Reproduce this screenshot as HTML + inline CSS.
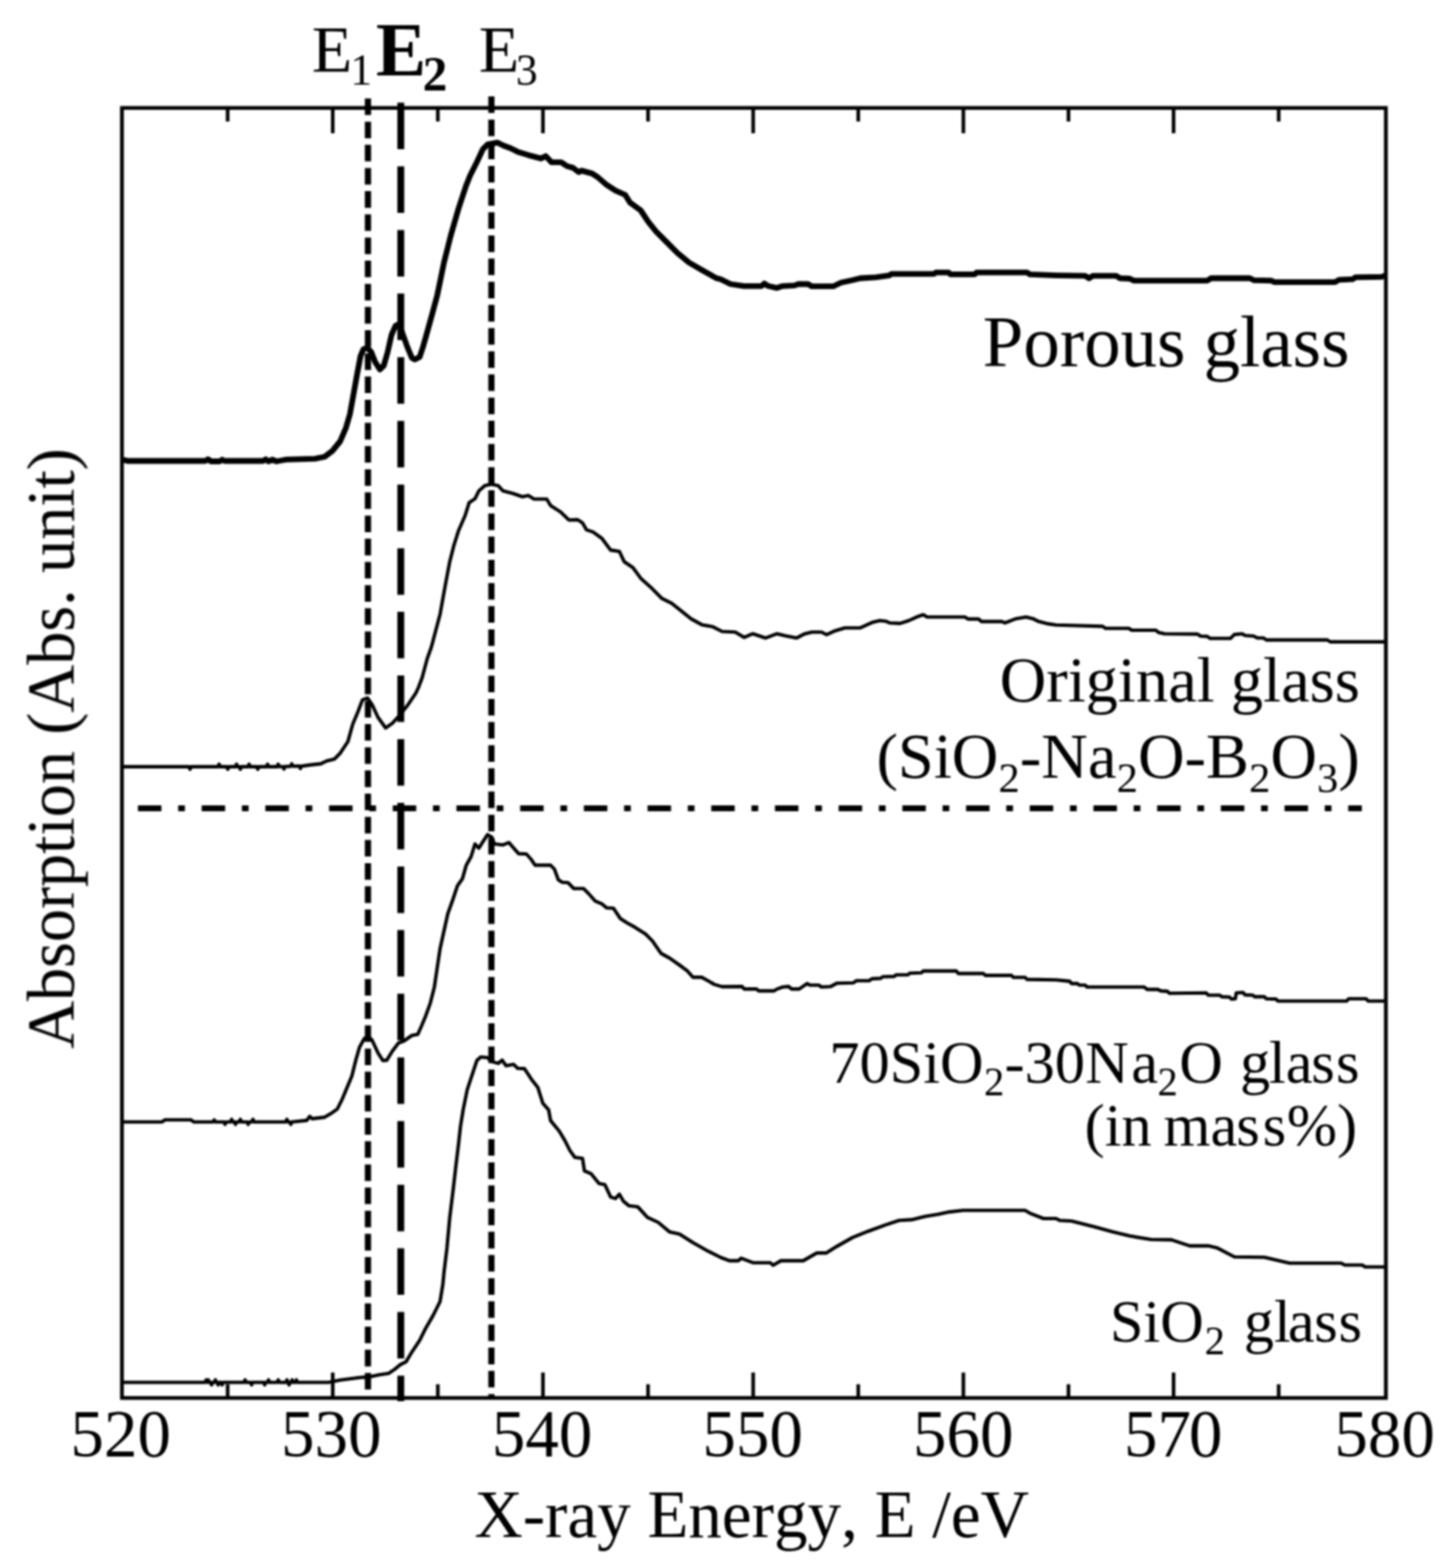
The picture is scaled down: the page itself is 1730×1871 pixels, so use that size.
<!DOCTYPE html>
<html lang="en"><head><meta charset="utf-8"><title>O K-edge XANES spectra of glasses</title>
<style>
html,body{margin:0;padding:0;background:#fff;}
body{width:1730px;height:1871px;overflow:hidden;}
svg{display:block;}
text{font-family:"Liberation Serif",serif;fill:#000;font-kerning:none;}
.ax{fill:none;stroke:#000;stroke-width:4.5;}
.tk{stroke:#000;stroke-width:4.3;fill:none;}
.cv{fill:none;stroke:#000;stroke-width:4.1;stroke-linejoin:round;stroke-linecap:butt;}
.cvb{fill:none;stroke:#000;stroke-width:6.8;stroke-linejoin:round;stroke-linecap:butt;}
</style></head><body>
<svg width="1730" height="1871" viewBox="0 0 1730 1871">
<rect x="0" y="0" width="1730" height="1871" fill="#fff"/>
<defs><filter id="soft" x="0" y="0" width="1730" height="1871" filterUnits="userSpaceOnUse"><feGaussianBlur stdDeviation="0.9"/></filter></defs>
<g filter="url(#soft)">
<polyline class="cvb" points="147.0,548.4 152.0,550.0 245.0,550.0 248.0,548.0 252.0,550.5 262.0,550.5 265.0,548.5 268.0,550.0 314.0,550.0 317.0,548.0 320.0,550.5 325.0,548.5 330.0,550.5 341.0,548.4 375.8,547.3 387.4,545.0 396.6,538.0 405.9,526.5 412.8,510.3 417.5,494.1 422.1,468.7 426.7,443.2 430.2,424.7 433.6,416.6 438.3,415.0 442.9,420.1 447.5,431.7 453.3,440.9 457.9,436.3 462.5,420.1 467.2,399.3 471.8,388.9 476.4,386.6 479.9,397.0 485.7,413.2 491.4,427.0 494.9,428.9 500.7,425.9 504.5,414.5 507.8,403.0 515.3,376.0 521.6,352.7 529.7,313.4 537.8,281.0 547.1,248.7 556.3,220.9 560.9,209.4 569.0,193.2 576.0,178.2 581.7,172.4 593.3,170.1 600.2,173.5 609.5,177.0 618.7,181.6 630.3,185.1 641.8,188.1 645.3,189.2 651.1,186.2 658.0,193.6 669.6,193.6 676.5,198.3 683.5,200.1 690.4,205.4 693.9,203.6 706.6,207.1 713.5,211.7 722.8,219.8 734.3,227.4 745.9,232.5 751.7,241.7 764.4,251.0 773.6,264.9 782.9,276.4 794.5,288.0 808.3,301.8 822.2,313.4 838.4,322.7 854.6,331.9 860.0,333.2 871.6,339.0 887.7,341.3 908.6,341.3 912.0,338.3 916.6,341.3 927.0,343.6 934.0,341.3 947.9,340.6 952.5,339.0 964.0,339.0 968.7,341.7 994.1,341.7 1003.4,337.3 1017.2,334.3 1026.5,332.0 1045.0,330.9 1061.2,328.6 1063.5,326.9 1114.3,326.9 1116.6,325.1 1131.7,325.1 1134.0,327.4 1162.9,327.4 1165.2,325.1 1225.3,325.1 1228.8,327.4 1260.0,328.6 1294.7,329.2 1299.3,332.0 1303.9,329.2 1331.7,329.2 1336.3,332.0 1347.9,332.5 1352.5,334.8 1440.3,334.8 1445.0,332.0 1491.2,332.0 1495.8,334.3 1516.6,334.8 1520.1,336.6 1592.9,336.6 1597.6,333.9 1613.8,333.2 1617.2,330.9 1648.4,330.4 1653.0,328.6"/>
<polyline class="cv" points="147.0,914.9 225.3,914.9 226.7,917.9 228.1,914.9 260.0,914.9 261.4,911.9 262.8,914.9 270.4,914.9 271.8,917.9 273.2,914.9 280.8,914.9 282.2,911.9 283.6,914.9 285.4,914.9 286.8,917.9 288.2,914.9 295.8,914.9 297.2,911.9 298.6,914.9 306.2,914.9 307.6,917.9 309.0,914.9 317.8,914.9 319.2,911.9 320.6,914.9 330.5,914.9 331.9,911.8 333.3,914.8 337.4,914.7 338.8,917.6 340.2,914.6 346.7,914.4 348.1,911.4 349.5,914.3 357.1,914.1 358.5,917.0 359.9,914.0 362.0,913.9 371.2,912.6 382.8,911.4 389.7,908.0 399.0,905.7 405.9,898.7 415.1,884.9 420.9,864.0 426.7,850.2 432.5,835.1 438.3,832.8 444.0,840.9 451.0,856.0 460.2,868.7 468.3,862.9 477.6,852.5 486.8,840.9 496.1,827.1 499.2,820.5 503.7,808.5 509.7,786.0 514.7,772.0 525.1,732.7 530.9,700.3 536.6,670.2 541.3,651.7 547.1,633.2 555.1,614.7 559.8,599.7 566.7,595.1 571.3,585.8 578.3,579.6 586.4,577.7 594.5,579.6 600.2,585.8 611.8,588.8 623.4,592.8 630.3,591.2 637.2,595.5 652.3,595.5 656.9,603.2 668.4,610.6 678.8,620.5 689.2,620.1 695.0,624.0 699.7,632.1 707.7,634.9 718.2,642.5 728.6,656.4 739.0,658.0 744.7,670.2 755.1,677.2 764.4,689.9 778.3,702.6 789.8,714.2 801.4,719.9 813.0,729.2 824.5,738.4 837.2,745.4 849.9,747.7 861.5,753.5 877.3,754.3 887.7,760.6 898.2,756.2 913.2,761.3 927.1,756.2 936.3,758.5 950.2,761.3 959.4,756.6 968.7,754.3 980.2,754.3 986.0,757.3 996.4,752.7 1008.0,749.2 1026.5,749.2 1040.3,742.8 1049.6,740.5 1056.5,741.2 1061.2,743.2 1073.9,743.9 1084.3,740.5 1093.5,736.3 1101.6,733.5 1106.2,736.3 1151.3,736.3 1154.8,738.6 1167.5,738.6 1171.0,741.6 1195.3,741.6 1198.7,743.2 1204.5,741.2 1212.6,738.2 1224.2,736.3 1232.3,738.2 1239.2,741.6 1250.8,744.4 1260.0,745.8 1315.5,747.4 1319.0,749.7 1346.7,749.7 1350.2,752.0 1379.1,752.0 1382.5,754.8 1389.5,756.2 1428.8,756.6 1432.3,759.0 1440.3,759.4 1443.8,761.7 1468.1,761.7 1472.7,757.1 1482.0,756.2 1485.4,758.3 1495.8,759.0 1500.5,761.3 1507.4,761.3 1510.9,763.6 1583.7,763.6 1587.2,765.9 1653.0,765.9"/>
<polyline class="cv" points="147.0,1338.7 193.5,1338.7 196.5,1336.3 228.0,1336.3 231.0,1338.7 254.2,1338.7 255.6,1336.3 257.0,1338.7 267.1,1338.7 268.5,1341.7 269.9,1338.7 275.0,1338.7 276.4,1335.7 277.8,1338.7 279.6,1338.7 281.0,1341.7 282.4,1338.7 285.4,1338.7 286.8,1335.7 288.2,1338.7 294.7,1338.7 296.1,1341.7 297.5,1338.7 300.4,1338.7 301.8,1335.7 303.2,1338.7 340.9,1338.7 342.3,1335.7 343.7,1338.7 345.6,1338.7 347.0,1341.7 348.4,1338.7 366.0,1336.9 369.6,1332.1 372.4,1334.9 387.4,1333.1 394.3,1329.1 402.4,1323.4 408.2,1311.8 414.0,1297.9 419.8,1284.0 424.4,1265.5 429.0,1249.4 434.8,1239.0 439.4,1236.6 444.0,1241.3 451.0,1256.3 456.8,1265.5 461.4,1265.1 468.3,1254.0 475.3,1244.7 482.2,1242.0 491.4,1235.5 498.4,1234.3 503.0,1224.0 507.7,1212.8 513.5,1196.6 518.2,1178.1 521.6,1155.0 525.1,1131.8 529.7,1111.0 534.3,1090.2 540.1,1074.0 545.9,1056.7 551.7,1048.6 556.3,1032.4 562.1,1022.0 566.7,1007.0 571.3,1012.1 576.0,1004.7 581.7,995.9 586.8,998.9 589.8,1007.0 600.2,1008.2 607.2,1005.4 618.7,1018.6 628.0,1019.0 633.8,1025.5 638.4,1032.4 656.9,1032.4 661.5,1037.1 666.1,1049.8 670.8,1052.8 677.7,1053.2 684.6,1060.2 696.2,1060.2 702.0,1066.0 710.1,1075.2 718.2,1078.7 723.9,1083.3 732.0,1083.8 740.1,1096.0 748.2,1101.3 757.5,1106.4 770.2,1114.5 778.3,1122.6 788.7,1137.6 799.1,1143.4 810.6,1151.5 819.9,1158.4 826.8,1166.1 837.2,1166.1 844.2,1170.0 852.3,1174.6 861.5,1177.4 885.4,1177.1 887.7,1180.1 902.8,1180.1 905.1,1182.4 923.6,1182.4 927.1,1180.1 934.0,1177.8 940.9,1177.1 944.4,1180.1 953.6,1180.1 962.9,1173.6 966.4,1175.5 976.8,1175.5 980.2,1177.8 990.6,1177.3 998.7,1173.2 1018.4,1172.7 1021.8,1170.2 1036.9,1170.2 1040.3,1167.9 1050.8,1167.4 1053.1,1165.5 1066.9,1165.1 1069.2,1163.2 1083.1,1163.2 1085.4,1161.2 1099.3,1160.7 1101.6,1158.6 1140.9,1158.6 1143.2,1161.6 1173.3,1161.6 1175.6,1163.9 1206.8,1163.9 1209.1,1166.2 1223.0,1166.2 1225.3,1168.6 1260.0,1169.2 1276.2,1170.9 1278.5,1173.6 1285.4,1173.6 1287.7,1175.5 1294.7,1175.5 1297.0,1177.8 1365.2,1177.8 1368.7,1180.6 1381.4,1180.6 1384.9,1182.4 1392.9,1182.9 1395.3,1185.2 1439.2,1184.7 1441.5,1187.5 1455.4,1187.5 1457.7,1189.4 1466.9,1189.8 1469.2,1192.1 1473.9,1191.7 1475.0,1184.7 1483.1,1184.3 1485.4,1187.1 1494.7,1187.5 1497.0,1189.4 1508.6,1189.4 1510.9,1191.7 1522.4,1192.1 1524.7,1194.5 1606.8,1194.5 1609.1,1191.7 1629.9,1191.7 1632.3,1194.5 1653.0,1194.5"/>
<polyline class="cv" points="147.0,1649.5 244.8,1649.5 246.0,1646.5 247.2,1649.5 247.3,1649.5 248.5,1646.5 249.7,1649.5 251.2,1649.5 252.4,1652.5 253.6,1649.5 255.8,1649.5 257.0,1646.5 258.2,1649.5 259.0,1649.5 260.2,1652.5 261.4,1649.5 263.8,1649.5 265.0,1652.5 266.2,1649.5 291.2,1649.5 292.4,1646.5 293.6,1649.5 299.0,1649.5 300.2,1652.5 301.4,1649.5 314.6,1649.5 315.8,1652.5 317.0,1649.5 319.2,1649.5 320.4,1646.5 321.6,1649.5 330.8,1649.5 332.0,1646.5 333.2,1649.5 341.2,1649.5 342.4,1646.5 343.6,1649.5 343.7,1649.5 344.9,1652.5 346.1,1649.5 347.3,1649.5 348.5,1646.5 349.7,1649.5 352.4,1649.5 353.6,1646.5 354.8,1649.5 392.0,1649.5 394.3,1649.1 405.9,1646.8 417.5,1645.2 429.0,1643.8 440.6,1642.9 452.1,1640.6 463.7,1638.7 470.6,1634.1 477.6,1628.3 484.5,1624.9 491.4,1613.3 500.7,1599.4 507.6,1585.5 516.9,1569.4 525.0,1553.2 528.4,1532.4 529.7,1518.6 533.2,1489.7 536.6,1452.7 540.6,1420.3 544.3,1388.0 547.1,1364.9 549.4,1344.0 552.8,1323.2 557.5,1300.1 563.2,1282.8 569.0,1265.4 573.6,1261.3 581.7,1262.0 586.4,1266.6 594.5,1268.9 599.1,1265.0 603.7,1271.7 612.9,1270.1 617.6,1274.7 625.7,1275.1 633.8,1287.4 641.8,1297.8 647.6,1316.3 654.6,1324.4 656.9,1337.1 667.3,1349.8 674.2,1361.4 680.0,1372.9 685.8,1381.0 695.0,1382.2 697.3,1397.2 705.4,1400.7 714.7,1412.3 721.6,1413.4 728.6,1428.4 734.3,1430.1 739.0,1425.0 743.6,1433.1 750.5,1438.8 760.9,1440.0 772.5,1452.7 785.2,1458.5 799.1,1470.1 810.6,1472.4 826.8,1482.8 845.3,1493.2 860.0,1500.5 870.4,1504.4 880.8,1504.4 884.3,1501.4 898.2,1506.7 919.0,1506.7 922.4,1509.7 931.7,1504.4 958.3,1504.4 974.5,1495.1 986.0,1495.1 998.7,1487.1 1017.2,1476.6 1035.7,1469.2 1056.5,1461.6 1072.7,1456.3 1087.7,1455.4 1105.1,1451.2 1119.0,1448.9 1132.8,1446.1 1149.0,1444.3 1223.0,1444.3 1229.9,1448.2 1245.0,1454.0 1260.0,1454.0 1264.6,1456.3 1278.5,1457.0 1306.2,1463.9 1327.1,1469.7 1347.9,1474.8 1373.3,1479.0 1397.6,1479.4 1419.5,1486.6 1441.5,1486.6 1451.9,1488.9 1472.7,1499.8 1508.6,1500.2 1538.6,1507.2 1599.9,1507.2 1604.5,1509.5 1625.3,1509.5 1628.8,1511.8 1653.0,1511.8"/>
<rect class="ax" x="145.5" y="128.8" width="1508.0" height="1539.3"/>
<path class="tk" d="M271.6 128.8v16.3M271.6 1668.1v-16.3M397.0 128.8v30.3M397.0 1668.1v-30.3M522.4 128.8v16.3M522.4 1668.1v-16.3M647.8 128.8v30.3M647.8 1668.1v-30.3M773.2 128.8v16.3M773.2 1668.1v-16.3M898.6 128.8v30.3M898.6 1668.1v-30.3M1024.0 128.8v16.3M1024.0 1668.1v-16.3M1149.4 128.8v30.3M1149.4 1668.1v-30.3M1274.8 128.8v16.3M1274.8 1668.1v-16.3M1400.2 128.8v30.3M1400.2 1668.1v-30.3M1525.6 128.8v16.3M1525.6 1668.1v-16.3"/>
<line x1="439" y1="117.5" x2="439" y2="1668" stroke="#000" stroke-width="7.4" stroke-dasharray="19.8 7.85"/>
<line x1="478.2" y1="122.5" x2="478.2" y2="1672" stroke="#000" stroke-width="8.2" stroke-dasharray="55.5 20.45"/>
<line x1="586.3" y1="115" x2="586.3" y2="1668" stroke="#000" stroke-width="7.4" stroke-dasharray="19.8 7.85"/>
<line x1="164.6" y1="964.6" x2="1624.8" y2="964.6" stroke="#000" stroke-width="7" stroke-dasharray="28 20 8 20"/>
<text x="372" y="84.9" font-size="79">E<tspan font-size="52" dx="-2.2" dy="16.2">1</tspan></text>
<text x="448.5" y="89.8" font-size="90" font-weight="bold">E<tspan font-size="59" dx="-4.4" dy="18.6">2</tspan></text>
<text x="571.2" y="84.9" font-size="79">E<tspan font-size="52" dx="-4" dy="16.2">3</tspan></text>
<text x="1610" y="436.7" font-size="87" text-anchor="end">Porous glass</text>
<text x="1622.5" y="837" font-size="77" text-anchor="end">Original glass</text>
<text x="1622.5" y="927.7" font-size="77" text-anchor="end">(SiO<tspan font-size="51" dy="17">2</tspan><tspan dy="-17">-Na</tspan><tspan font-size="51" dy="17">2</tspan><tspan dy="-17">O-B</tspan><tspan font-size="51" dy="17">2</tspan><tspan dy="-17">O</tspan><tspan font-size="51" dy="17">3</tspan><tspan dy="-17">)</tspan></text>
<text x="1622" y="1292" font-size="72" text-anchor="end">70SiO<tspan font-size="48.5" dy="14.5" dx="0.5">2</tspan><tspan dy="-14.5" dx="0.2 0 0 0.2 3">-30Na</tspan><tspan font-size="48.5" dy="14.5" dx="-0.8">2</tspan><tspan dy="-14.5" dx="1.8 2.5 0 -1.5 0 -1.5 1.5">O glass</tspan></text>
<text x="1619.2" y="1366.6" font-size="72" text-anchor="end" dx="0 0 0 -3.8 0 0 -1.2 3.5 0.7 0">(in mass%)</text>
<text x="1625" y="1601" font-size="72" text-anchor="end">SiO<tspan font-size="48.5" dy="14.5" dx="1">2</tspan><tspan dy="-14.5" dx="4.5 0 0 -3.5 -0.5 1"> glass</tspan></text>
<text x="144.0" y="1737.5" font-size="80" text-anchor="middle">520</text>
<text x="395.3" y="1737.5" font-size="80" text-anchor="middle">530</text>
<text x="646.7" y="1737.5" font-size="80" text-anchor="middle">540</text>
<text x="898.0" y="1737.5" font-size="80" text-anchor="middle">550</text>
<text x="1149.3" y="1737.5" font-size="80" text-anchor="middle">560</text>
<text x="1399.7" y="1737.5" font-size="80" text-anchor="middle" dx="0 0 -2.5">570</text>
<text x="1652.0" y="1737.5" font-size="80" text-anchor="middle">580</text>
<text x="896.9" y="1833.5" font-size="80" text-anchor="middle">X-ray Energy, E /eV</text>
<text transform="translate(87.8 893.3) rotate(-90)" font-size="79.5" letter-spacing="-0.25" text-anchor="middle">Absorption (Abs. unit)</text>
</g>
</svg></body></html>
